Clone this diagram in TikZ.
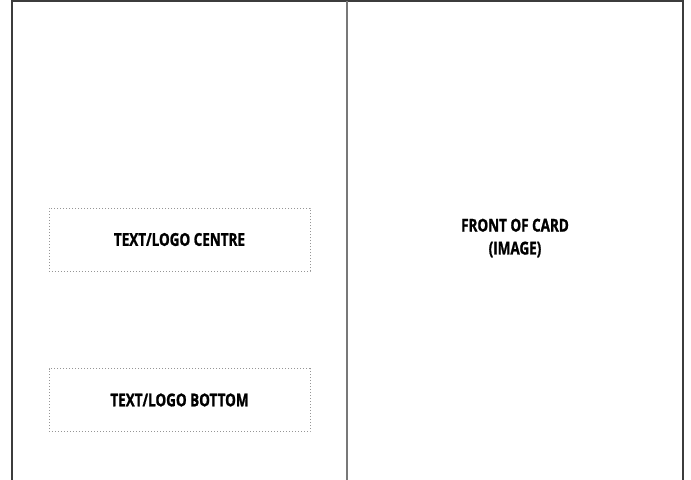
\documentclass[tikz,border=0pt]{standalone}
\usepackage{fontspec}
\setmainfont[FakeStretch=0.76, BoldFeatures={FakeBold=1.2}]{Open Sans}
\usepackage{tikz}
\usetikzlibrary{positioning}
\definecolor{FrameGrey}{RGB}{60,60,60}
\definecolor{FoldGrey}{RGB}{120,120,120}
\definecolor{DotGrey}{RGB}{150,150,150}

\begin{document}
\begin{tikzpicture}[x=1bp, y=-1bp,
    zone/.style={draw=DotGrey, line width=0.8bp, dash pattern=on 1bp off 2bp,
                 minimum width=261bp, minimum height=63bp, inner sep=0pt},
    label/.style={font=\fontsize{17.8}{23}\selectfont\bfseries, align=center}]
  % page size
  \useasboundingbox (0,0) rectangle (691,480);

  % card outline and fold
  \draw[FrameGrey, line width=1.6bp] (12,490) -- (12,1) -- (683,1) -- (683,490);
  \draw[FoldGrey, line width=1.2bp] (347,1) -- (347,490);

  % inside of card
  \node[zone, label] (centre) at (179.5,239.5) {TEXT/LOGO CENTRE};
  \node[zone, label] (bottom) at (179.5,400) {TEXT/LOGO BOTTOM};

  % front of card
  \node[label] (front) at (515,238) {FRONT OF CARD\\(IMAGE)};
\end{tikzpicture}
\end{document}
